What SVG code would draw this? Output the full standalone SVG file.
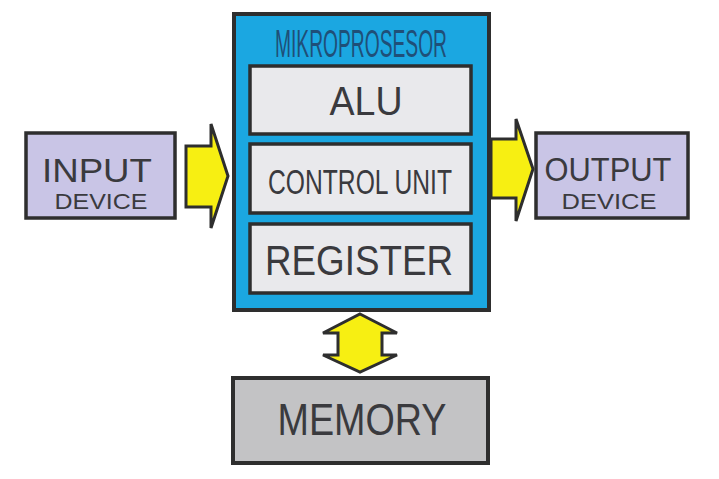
<svg xmlns="http://www.w3.org/2000/svg" width="719" height="479" viewBox="0 0 719 479">
<style>
.box{stroke:#2e2e2e;stroke-width:4}
.inner{fill:#e9e9ec;stroke:#2e2e2e;stroke-width:3.5}
.io{fill:#c9c5e6;stroke:#2e2e2e;stroke-width:3.5}
.t{font-family:"Liberation Sans",Arial,sans-serif;fill:#3a3a3e}
.arr{fill:#f7ef12;stroke:#2e2e2e;stroke-width:3;stroke-linejoin:miter}
</style>
<rect width="719" height="479" fill="#ffffff"/>
<g id="connectors">
<path class="arr" d="M186,146 L211,146 L211,124 L228,176 L211,228 L211,207 L186,207 Z"/>
<path class="arr" d="M491,139 L516,139 L516,119 L533,169 L516,221 L516,198 L491,198 Z"/>
<path class="arr" d="M360,314 L397,333 L382,333 L382,355 L397,355 L360,372 L323,355 L338,355 L338,333 L323,333 Z"/>
</g>
<g id="mikroprosesor">
<rect class="box" x="234" y="14" width="255" height="296" fill="#1ba7e1"/>
<text class="t" x="361" y="57" font-size="38" text-anchor="middle" textLength="172" lengthAdjust="spacingAndGlyphs" style="fill:#1f4f78">MIKROPROSESOR</text>
</g>
<g id="alu">
<rect class="inner" x="250" y="66" width="221" height="68"/>
<text class="t" x="366" y="115" font-size="40" text-anchor="middle" textLength="73" lengthAdjust="spacingAndGlyphs">ALU</text>
</g>
<g id="control-unit">
<rect class="inner" x="250" y="144" width="221" height="69"/>
<text class="t" x="360" y="194" font-size="35" text-anchor="middle" textLength="184" lengthAdjust="spacingAndGlyphs">CONTROL UNIT</text>
</g>
<g id="register">
<rect class="inner" x="250" y="224" width="221" height="69"/>
<text class="t" x="359" y="275" font-size="43" text-anchor="middle" textLength="188" lengthAdjust="spacingAndGlyphs">REGISTER</text>
</g>
<g id="input-device">
<rect class="io" x="26" y="133" width="149" height="85"/>
<text class="t" x="97" y="182" font-size="34" text-anchor="middle" textLength="110" lengthAdjust="spacingAndGlyphs">INPUT</text>
<text class="t" x="101" y="209" font-size="22" text-anchor="middle" textLength="93" lengthAdjust="spacingAndGlyphs">DEVICE</text>
</g>
<g id="output-device">
<rect class="io" x="536" y="133" width="152" height="85"/>
<text class="t" x="608" y="181" font-size="34" text-anchor="middle" textLength="127" lengthAdjust="spacingAndGlyphs">OUTPUT</text>
<text class="t" x="609" y="209" font-size="22" text-anchor="middle" textLength="95" lengthAdjust="spacingAndGlyphs">DEVICE</text>
</g>
<g id="memory">
<rect class="box" x="233" y="378" width="255" height="85" fill="#c3c3c5"/>
<text class="t" x="362" y="435" font-size="45" text-anchor="middle" textLength="169" lengthAdjust="spacingAndGlyphs">MEMORY</text>
</g>
</svg>
